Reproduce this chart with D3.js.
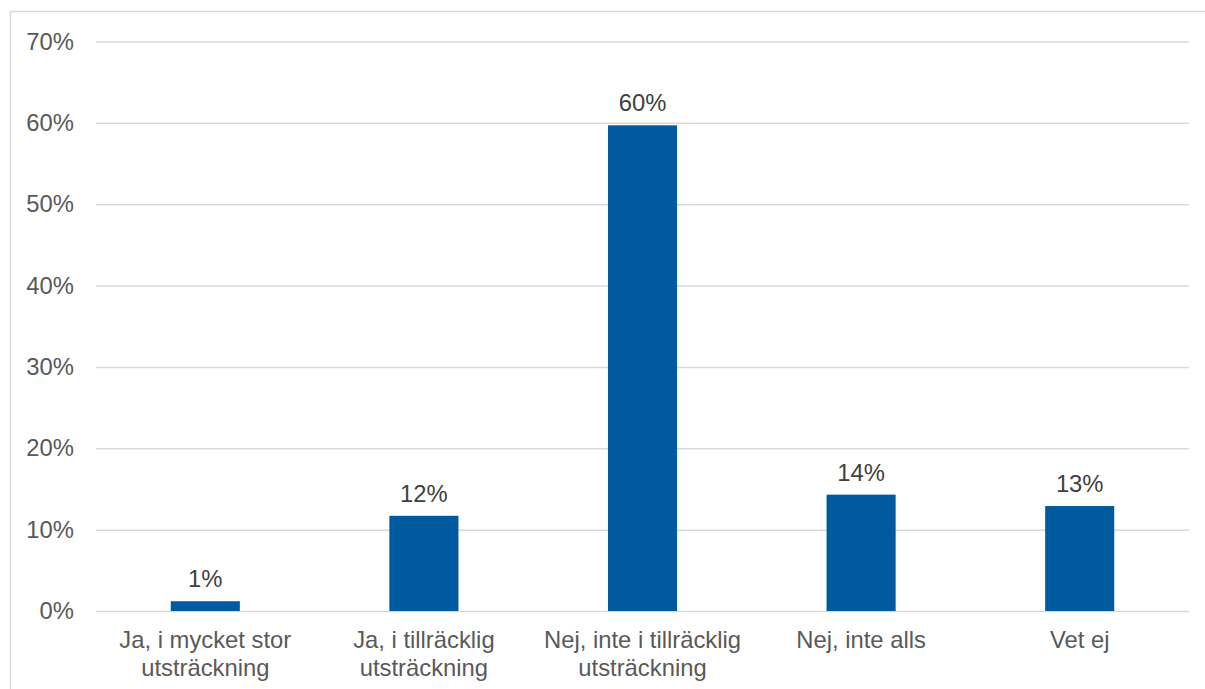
<!DOCTYPE html>
<html>
<head>
<meta charset="utf-8">
<script src="https://cdn.jsdelivr.net/npm/d3@7"></script>
<style>
  body { margin: 0; background: #fff; }
  svg { font-family: "Liberation Sans", Arial, sans-serif; }
</style>
</head>
<body>
<svg id="chart" width="1205" height="689"></svg>
<script>
// answers
var categories = [
  ["Ja, i mycket stor", "utsträckning"],
  ["Ja, i tillräcklig", "utsträckning"],
  ["Nej, inte i tillräcklig", "utsträckning"],
  ["Nej, inte alls"],
  ["Vet ej"]
];
var values = [1.2, 11.7, 59.7, 14.3, 12.9];
var labels = ["1%", "12%", "60%", "14%", "13%"];
var yTicks = [0, 10, 20, 30, 40, 50, 60, 70];

const main = function() {
  var svg = d3.select('#chart');
  var fs = "23.8px";

  // outer frame (runs off the right and bottom edge)
  svg.append("rect")
    .attr("x", 10.5).attr("y", 11.5)
    .attr("width", 1220).attr("height", 700)
    .attr("fill", "none")
    .attr("stroke", "#d9d9d9")
    .attr("stroke-width", 1.5);

  var left = 96, right = 1189, top = 41.5, bottom = 611;

  var x = d3.scaleBand()
    .domain(d3.range(categories.length))
    .range([left, right])
    .padding(0);

  var y = d3.scaleLinear()
    .domain([0, 70])
    .range([bottom, top]);

  // gridlines + tick labels
  var yAxis = svg.append("g")
    .attr("transform", "translate(" + left + ",0)")
    .call(d3.axisLeft(y).tickValues(yTicks).tickSize(-(right - left)).tickFormat(d => d + "%").tickPadding(22));
  yAxis.select(".domain").remove();
  yAxis.selectAll(".tick line").attr("stroke", "#d9d9d9").attr("stroke-width", 1.5);
  yAxis.selectAll(".tick text")
    .attr("fill", "#595959")
    .attr("font-size", fs)
    .attr("font-family", "Liberation Sans, Arial, sans-serif");

  var barW = x.bandwidth() * 0.316;

  svg.append("g").selectAll("rect")
    .data(values)
    .join("rect")
    .attr("x", (d, i) => x(i) + x.bandwidth() / 2 - barW / 2)
    .attr("y", d => y(d))
    .attr("width", barW)
    .attr("height", d => y(0) - y(d))
    .attr("fill", "#005aa0");

  // data labels
  svg.append("g").selectAll("text")
    .data(values)
    .join("text")
    .attr("x", (d, i) => x(i) + x.bandwidth() / 2)
    .attr("y", d => y(d) - 14)
    .attr("text-anchor", "middle")
    .attr("font-size", fs)
    .attr("fill", "#404040")
    .text((d, i) => labels[i]);

  // category labels, wrapped as in the original
  var cat = svg.append("g").selectAll("text")
    .data(categories)
    .join("text")
    .attr("x", (d, i) => x(i) + x.bandwidth() / 2)
    .attr("y", 648)
    .attr("text-anchor", "middle")
    .attr("font-size", fs)
    .attr("fill", "#595959");
  cat.selectAll("tspan")
    .data(d => d)
    .join("tspan")
    .attr("x", function() { return d3.select(this.parentNode).attr("x"); })
    .attr("dy", (d, j) => j === 0 ? 0 : 28)
    .text(d => d);
};

main();
</script>
</body>
</html>
